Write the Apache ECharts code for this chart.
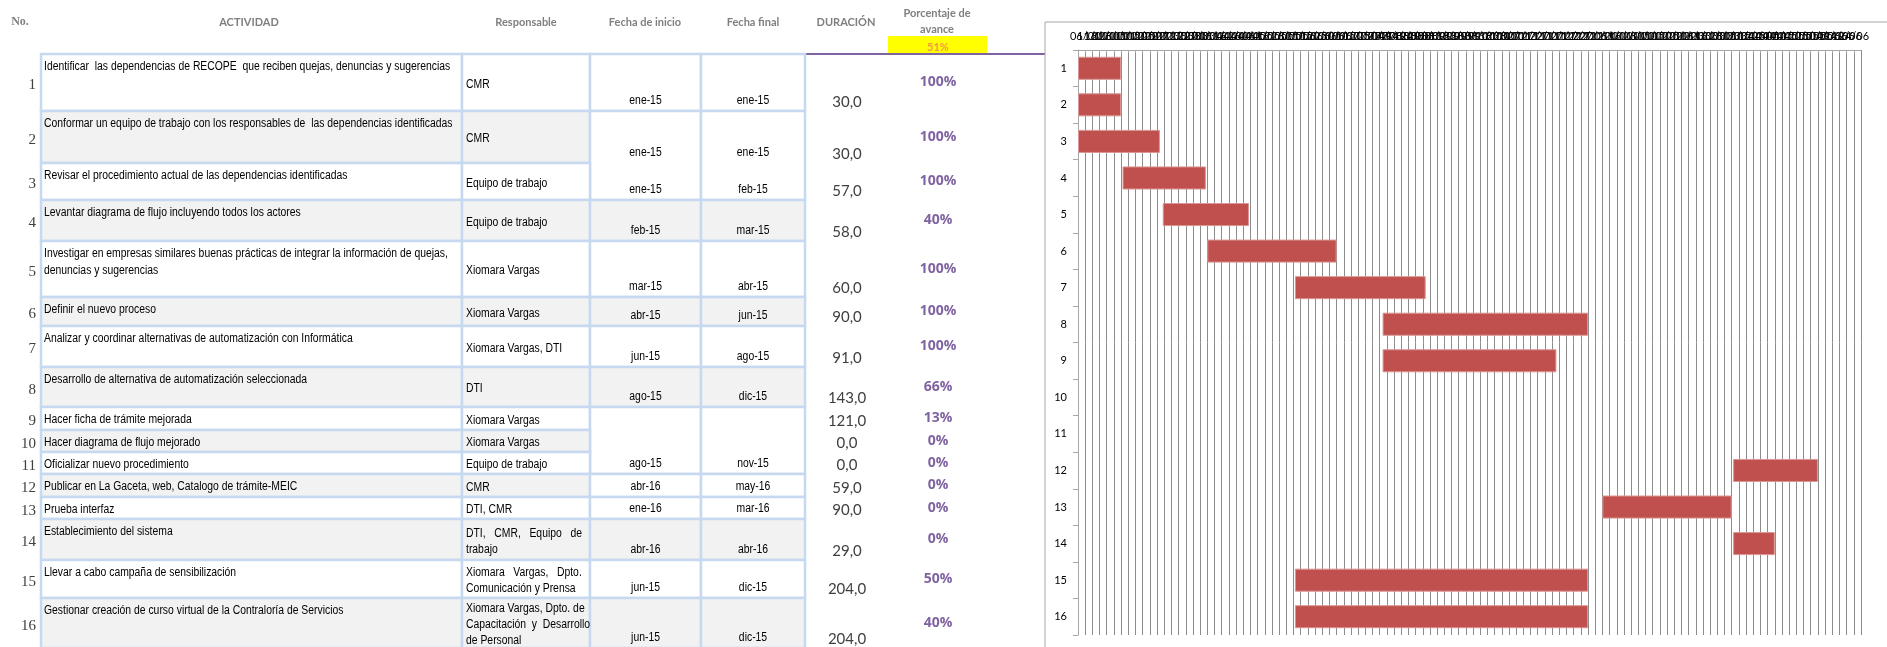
<!doctype html>
<html>
<head>
<meta charset="utf-8">
<title>Cronograma</title>
<style>
  html, body { margin: 0; padding: 0; background: #fff; }
  #main { width: 1887px; height: 647px; }
</style>
</head>
<body>
<div id="main"></div>
<script src="https://cdn.jsdelivr.net/npm/echarts/dist/echarts.min.js"></script>
<script>
// ---- data read from the sheet ----
var numeros = ['1', '2', '3', '4', '5', '6', '7', '8', '9', '10', '11', '12', '13', '14', '15', '16'];
var actividades = [
    'Identificar  las dependencias de RECOPE  que reciben quejas, denuncias y sugerencias',
    'Conformar un equipo de trabajo con los responsables de  las dependencias identificadas',
    'Revisar el procedimiento actual de las dependencias identificadas',
    'Levantar diagrama de flujo incluyendo todos los actores',
    'Investigar en empresas similares buenas prácticas de integrar la información de quejas,\ndenuncias y sugerencias',
    'Definir el nuevo proceso',
    'Analizar y coordinar alternativas de automatización con Informática',
    'Desarrollo de alternativa de automatización seleccionada',
    'Hacer ficha de trámite mejorada',
    'Hacer diagrama de flujo mejorado',
    'Oficializar nuevo procedimiento',
    'Publicar en La Gaceta, web, Catalogo de trámite-MEIC',
    'Prueba interfaz',
    'Establecimiento del sistema',
    'Llevar a cabo campaña de sensibilización',
    'Gestionar creación de curso virtual de la Contraloría de Servicios'
];
var responsables = [
    'CMR', 'CMR', 'Equipo de trabajo', 'Equipo de trabajo', 'Xiomara Vargas', 'Xiomara Vargas',
    'Xiomara Vargas, DTI', 'DTI', 'Xiomara Vargas', 'Xiomara Vargas', 'Equipo de trabajo', 'CMR',
    'DTI, CMR', 'DTI,   CMR,   Equipo   de\ntrabajo',
    'Xiomara   Vargas,   Dpto.\nComunicación y Prensa',
    'Xiomara Vargas, Dpto. de\nCapacitación  y  Desarrollo\nde Personal'
];
var fechaInicio = ['ene-15', 'ene-15', 'ene-15', 'feb-15', 'mar-15', 'abr-15', 'jun-15', 'ago-15',
    '', '', 'ago-15', 'abr-16', 'ene-16', 'abr-16', 'jun-15', 'jun-15'];
var fechaFinal = ['ene-15', 'ene-15', 'feb-15', 'mar-15', 'abr-15', 'jun-15', 'ago-15', 'dic-15',
    '', '', 'nov-15', 'may-16', 'mar-16', 'abr-16', 'dic-15', 'dic-15'];
var duracion = [30, 30, 57, 58, 60, 90, 91, 143, 121, 0, 0, 59, 90, 29, 204, 204];
var avance = [100, 100, 100, 40, 100, 100, 100, 66, 13, 0, 0, 0, 0, 0, 50, 40];
var avanceTotal = 51;
var inicioGantt = ['2015-01-01', '2015-01-01', '2015-01-01', '2015-02-01', '2015-03-01', '2015-04-01',
    '2015-06-01', '2015-08-01', '2015-08-01', '2015-08-01', '2015-08-01', '2016-04-01',
    '2016-01-01', '2016-04-01', '2015-06-01', '2015-06-01'];
var origenGantt = '2015-01-01';
var diasEje = 545;
var encabezados = ['ACTIVIDAD', 'Responsable', 'Fecha de inicio', 'Fecha final', 'DURACIÓN'];

// ---- sheet layout ----
var rowEdges = [54, 111, 163, 200, 241, 297, 326, 367, 407, 430, 452, 474, 497, 519, 560, 598, 648];
var colEdges = [41, 462, 590, 701, 805];
var dateSpans = [[0, 0], [1, 2], [3, 3], [4, 4], [5, 5], [6, 6], [7, 7], [8, 10], [11, 11], [12, 12], [13, 13], [14, 14], [15, 15]];
var dateGray = [3, 5, 7, 13, 15];
var xDur = 847, xPct = 938;
var arial = '"Liberation Sans", Arial, sans-serif';
var calibri = 'Lato, "Open Sans", sans-serif';
var narrowScale = 0.865;   // Arial Narrow look
var border = '#c6d9f0';

var DAY = 86400000;
var t0 = Date.parse(origenGantt);
var offsets = inicioGantt.map(function (d) { return (Date.parse(d) - t0) / DAY; });

function pad(n) { return n < 10 ? '0' + n : '' + n; }

function cell(x0, y0, x1, y1, fill) {
    return {
        type: 'rect',
        shape: { x: x0, y: y0, width: x1 - x0, height: y1 - y0 },
        style: { fill: fill, stroke: border, lineWidth: 2.5 }
    };
}

function txt(x, y, text, font, color, align, vAlign, lh, sx) {
    return {
        type: 'text',
        x: x, y: y,
        scaleX: sx || 1,
        style: {
            text: text, font: font, fill: color,
            align: align, verticalAlign: vAlign, lineHeight: lh || undefined
        }
    };
}

function renderRow(params, api) {
    var i = params.dataIndex;
    var top = rowEdges[i], bottom = rowEdges[i + 1], mid = (top + bottom) / 2;
    var shade = i % 2 === 1 ? '#f2f2f2' : '#ffffff';
    var ch = [];
    ch.push(cell(colEdges[0], top, colEdges[1], bottom, shade));
    ch.push(cell(colEdges[1], top, colEdges[2], bottom, shade));
    dateSpans.forEach(function (s) {
        if (s[0] !== i) return;
        var b = rowEdges[s[1] + 1];
        var f = dateGray.indexOf(i) >= 0 ? '#f2f2f2' : '#ffffff';
        ch.push(cell(colEdges[2], top, colEdges[3], b, f));
        ch.push(cell(colEdges[3], top, colEdges[4], b, f));
    });
    ch.push(txt(36, mid + 3, numeros[i], '15px "Liberation Serif", serif', '#404040', 'right', 'middle'));
    ch.push(txt(colEdges[0] + 3, top + 4, actividades[i], '12px ' + arial, '#000', 'left', 'top', 17, narrowScale));
    ch.push(txt(colEdges[1] + 4, mid + 2, responsables[i], '12px ' + arial, '#000', 'left', 'middle', 16, narrowScale));
    ch.push(txt((colEdges[2] + colEdges[3]) / 2, bottom - 10, fechaInicio[i], '12px ' + arial, '#000', 'center', 'middle', 0, narrowScale));
    ch.push(txt((colEdges[3] + colEdges[4]) / 2, bottom - 10, fechaFinal[i], '12px ' + arial, '#000', 'center', 'middle', 0, narrowScale));
    ch.push(txt(xDur, bottom - 9, duracion[i].toFixed(1).replace('.', ','), '15px ' + calibri, '#404040', 'center', 'middle'));
    ch.push(txt(xPct, mid, avance[i] + '%', 'bold 14px "Open Sans", sans-serif', '#8064a2', 'center', 'middle'));
    return { type: 'group', children: ch };
}

var headerX = [249, 526, 645, 753, 846];
var headerGraphics = encabezados.map(function (h, k) {
    return {
        type: 'text', x: headerX[k], y: 22,
        style: { text: h, font: 'bold 11px ' + calibri, fill: '#7f7f7f', align: 'center', verticalAlign: 'middle' }
    };
});
headerGraphics.push(
    { type: 'text', x: 20, y: 22, style: { text: 'No.', font: 'bold 12px "Liberation Serif", serif', fill: '#7f7f7f', align: 'center', verticalAlign: 'middle' } },
    { type: 'text', x: 937, y: 21, style: { text: 'Porcentaje de\navance', font: 'bold 11px ' + calibri, fill: '#7f7f7f', align: 'center', verticalAlign: 'middle', lineHeight: 16 } },
    { type: 'rect', shape: { x: 888, y: 36, width: 99, height: 17 }, style: { fill: '#ffff00' } },
    { type: 'text', x: 938, y: 47, style: { text: avanceTotal + '%', font: 'bold 11px ' + calibri, fill: '#f79646', align: 'center', verticalAlign: 'middle' } },
    { type: 'line', shape: { x1: 806, y1: 54, x2: 1045, y2: 54 }, style: { stroke: '#8064a2', lineWidth: 2 } },
    { type: 'rect', shape: { x: 1045, y: 22, width: 900, height: 700 }, style: { fill: 'none', stroke: '#a6a6a6', lineWidth: 1 } }
);

var chart = echarts.init(document.getElementById('main'));

chart.setOption({
    animation: false,
    backgroundColor: '#fff',
    graphic: headerGraphics,
    grid: { left: 1078, top: 50, width: 783, height: 585 },
    xAxis: {
        type: 'value',
        position: 'top',
        min: 0,
        max: diasEje,
        interval: 5,
        axisLine: { show: true, lineStyle: { color: '#a6a6a6' } },
        axisTick: { show: true, inside: true, length: 3, lineStyle: { color: '#a6a6a6' } },
        axisLabel: {
            color: '#000',
            fontSize: 11,
            fontFamily: calibri,
            margin: 8,
            formatter: function (v) {
                var d = new Date(t0 + v * DAY);
                return pad(d.getUTCDate()) + '/' + pad(d.getUTCMonth() + 1);
            }
        },
        splitLine: { show: true, lineStyle: { color: '#8c8c8c', width: 1 } }
    },
    yAxis: {
        type: 'category',
        data: numeros,
        inverse: true,
        axisLine: { show: true, lineStyle: { color: '#a6a6a6' } },
        axisTick: { show: true, length: 5, lineStyle: { color: '#a6a6a6' } },
        axisLabel: { color: '#000', fontSize: 11, fontFamily: calibri, margin: 11 },
        splitLine: { show: false }
    },
    series: [
        {
            type: 'bar',
            stack: 'gantt',
            silent: true,
            itemStyle: { color: 'transparent' },
            data: offsets
        },
        {
            type: 'bar',
            stack: 'gantt',
            barWidth: '63%',
            itemStyle: { color: '#c0504d', borderColor: '#d99694', borderWidth: 1 },
            data: duracion.map(function (d) {
                return d > 0 ? d : { value: d, itemStyle: { borderWidth: 0 } };
            })
        },
        {
            type: 'custom',
            coordinateSystem: 'none',
            silent: true,
            renderItem: renderRow,
            data: numeros.map(function (n, i) { return i; })
        }
    ]
});

window.onresize = chart.resize;
</script>
</body>
</html>
